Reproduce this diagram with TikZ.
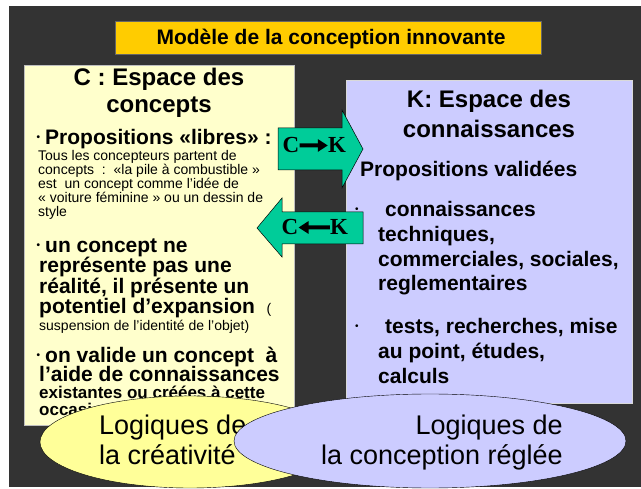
\documentclass[tikz,border=0pt]{standalone}
\usepackage{fontspec}
\setmainfont{Liberation Sans}
\newfontfamily\ckfont{Liberation Serif}
\usetikzlibrary{arrows.meta}

\definecolor{bgdark}{HTML}{333333}
\definecolor{titleorange}{HTML}{FFCC00}
\definecolor{cyellow}{HTML}{FFFFCC}
\definecolor{klav}{HTML}{CCCCFF}
\definecolor{ovalyellow}{HTML}{FFFF99}
\definecolor{ckgreen}{HTML}{00CC99}

\newcommand{\cbullet}{\raisebox{4pt}{\fontsize{10}{10}\selectfont\textbullet}}

\begin{document}
\begin{tikzpicture}[x=1pt, y=-1pt,
  txt/.style={anchor=base west, inner sep=0pt},
  heading/.style={anchor=base, inner sep=0pt, font=\fontsize{24}{24}\selectfont\bfseries},
  bigtxt/.style={txt, font=\fontsize{21}{21}\selectfont\bfseries},
  midtxt/.style={txt, font=\fontsize{17}{17}\selectfont\bfseries},
  smalltxt/.style={txt, font=\fontsize{14}{14}\selectfont},
  ovaltxt/.style={inner sep=0pt, font=\fontsize{27}{27}\selectfont},
  flow/.style={fill=ckgreen, draw=black, line width=0.5pt},
  letter/.style={anchor=base, inner sep=0pt, font=\ckfont\bfseries\fontsize{23}{23}\selectfont}]

 \useasboundingbox (0,0) rectangle (641,489);
 \fill[white] (0,0) rectangle (641,489);
 \fill[bgdark] (9,6) rectangle (641,487);

 % title
 \draw[fill=titleorange, draw=black!60, thin] (115,21) rectangle (541,54);
 \node[anchor=base, inner sep=0pt, font=\fontsize{21}{21}\selectfont\bfseries] (title) at (331,45) {Modèle de la conception innovante};

 % C box
 \draw[fill=cyellow, draw=gray!50] (24,65) rectangle (294,425);
 \node[heading] (ch1) at (159,86) {C : Espace des};
 \node[heading] (ch2) at (159,113) {concepts};

 \node[bigtxt] (libres) at (45,145) {\llap{\cbullet\hspace{5pt}}Propositions «libres» :};
 \foreach \y/\t [count=\i] in {161/Tous les concepteurs partent de,
                               175/{concepts~~:~~«la pile à combustible »},
                               189/{est~~un concept comme l’idée de},
                               203/« voiture féminine » ou un dessin de,
                               217/style}
   \node[smalltxt] (lib\i) at (38,\y) {\t};

 \node[bigtxt] (pot1) at (45,253) {\llap{\cbullet\hspace{5pt}}un concept ne};
 \foreach \y/\t [count=\i] in {273/représente pas une,
                               294/{réalité, il présente un},
                               314/{potentiel d’expansion~~{\fontsize{14}{14}\selectfont\mdseries(}}}
   \node[bigtxt] (pot\i x) at (39,\y) {\t};
 \node[smalltxt] (susp) at (39,331) {suspension de l’identité de l’objet)};

 \node[bigtxt] (val1) at (45,363) {\llap{\cbullet\hspace{5pt}}on valide un concept~~à};
 \node[bigtxt] (val2) at (39,382) {l’aide de connaissances};
 \node[midtxt] (val3) at (39,399) {existantes ou créées à cette};
 \node[midtxt] (val4) at (39,416) {occasion};

 % K box
 \draw[fill=klav, draw=gray!30] (346,80) rectangle (632,403);
 \node[heading] (kh1) at (489,108) {K: Espace des};
 \node[heading] (kh2) at (489,138) {connaissances};
 \node[bigtxt] (valid) at (360,177) {Propositions validées};

 \node[txt] (kb1) at (355,217) {\cbullet};
 \node[bigtxt] (conn1) at (385,217) {connaissances};
 \foreach \y/\t [count=\i] in {242/{techniques,},
                               267/{commerciales, sociales,},
                               291/reglementaires}
   \node[bigtxt] (conn\i x) at (378,\y) {\t};

 \node[txt] (kb2) at (355,334) {\cbullet};
 \node[bigtxt] (test1) at (385,334) {tests, recherches, mise};
 \foreach \y/\t [count=\i] in {359/{au point, études,},
                               384/calculs}
   \node[bigtxt] (test\i x) at (378,\y) {\t};

 % arrows C -> K and K -> C
 \draw[flow] (278,128) -- (342,128) -- (342,110) -- (363,149) -- (342,188)
   -- (342,170) -- (278,170) -- cycle;
 \node[letter] (ckC) at (291,153) {C};
 \node[letter] (ckK) at (337,153) {K};
 \draw[line width=4pt, -{Triangle[length=10pt,width=12pt]}] (ckC.east) -- (ckK.west);

 \draw[flow] (363,212) -- (282,212) -- (282,198) -- (257,228) -- (282,257)
   -- (282,244) -- (363,244) -- cycle;
 \node[letter] (kcC) at (290,235) {C};
 \node[letter] (kcK) at (339,235) {K};
 \draw[line width=4pt, -{Triangle[length=10pt,width=12pt]}] (kcK.west) -- (kcC.east);

 % ovals
 \draw[fill=ovalyellow, thin] (190,442) ellipse [x radius=150, y radius=46];
 \node[ovaltxt, anchor=base west] (cre1) at (99,435) {Logiques de};
 \node[ovaltxt, anchor=base west] (cre2) at (99,465) {la créativité};

 \draw[fill=klav, thin] (430,441) ellipse [x radius=196, y radius=47];
 \node[ovaltxt, anchor=base east] (reg1) at (563,435) {Logiques de};
 \node[ovaltxt, anchor=base east] (reg2) at (563,465) {la conception réglée};

\end{tikzpicture}
\end{document}
